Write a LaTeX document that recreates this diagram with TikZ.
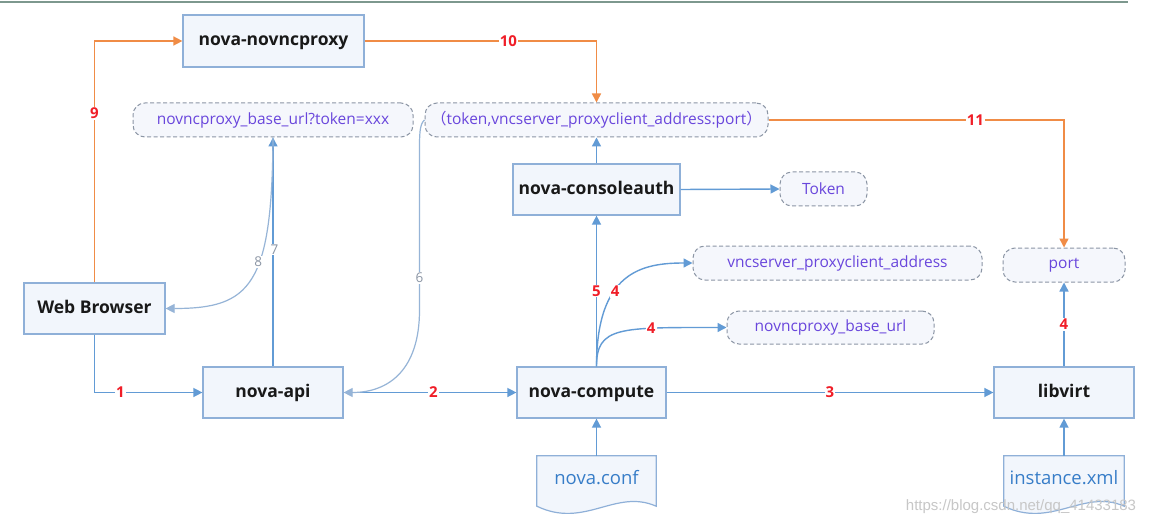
\documentclass[tikz,border=0pt]{standalone}
\usepackage{fontspec}
\setmainfont{Open Sans}
\newfontfamily\cjk{Noto Sans CJK SC}
\newfontfamily\wmfont{Liberation Sans}
\usetikzlibrary{arrows.meta}
\definecolor{boxc}{RGB}{143,176,216}
\definecolor{boxfill}{RGB}{242,246,252}
\definecolor{dashc}{RGB}{140,150,165}
\definecolor{tagfill}{RGB}{245,247,252}
\definecolor{tagtext}{RGB}{105,70,220}
\definecolor{bluec}{RGB}{98,155,213}
\definecolor{paleblue}{RGB}{150,180,215}
\definecolor{orangec}{RGB}{240,140,70}
\definecolor{redc}{RGB}{240,30,40}
\definecolor{grayc}{RGB}{140,150,165}
\definecolor{doctext}{RGB}{55,125,200}
\definecolor{topc}{RGB}{125,152,142}
\begin{document}
\begin{tikzpicture}[x=1pt,y=-1pt,
  box/.style={draw=boxc, line width=1.2pt, fill=boxfill, minimum height=51, inner sep=0pt,
    text height=12.5pt, text depth=3.5pt,
    font=\fontsize{17.5}{20}\selectfont\bfseries, text=black!90},
  tag/.style={draw=dashc, line width=1pt, dash pattern=on 4pt off 2.5pt, rounded corners=12pt,
    fill=tagfill, minimum height=34, inner sep=0pt, text=tagtext, font=\fontsize{15.5}{18}\selectfont},
  docnode/.style={minimum width=119, minimum height=50, inner sep=0pt, text=doctext,
    font=\fontsize{18.5}{21}\selectfont},
  docline/.style={draw=boxc, line width=1.2pt, fill=boxfill},
  bl/.style={draw=bluec, line width=1.4pt, -{Triangle[length=9pt,width=9pt]}},
  pl/.style={draw=paleblue, line width=1.2pt, -{Triangle[length=9pt,width=9pt]}},
  orl/.style={draw=orangec, line width=1.5pt, -{Triangle[length=9pt,width=9pt]}},
  lab/.style={fill=white, text=redc, inner sep=1pt, font=\fontsize{15}{17}\selectfont\bfseries},
  glab/.style={fill=white, text=grayc, inner sep=1pt, font=\fontsize{13.5}{15}\selectfont},
]
\useasboundingbox (0,0) rectangle (1152,524);
\fill[white] (0,0) rectangle (1152,524);
\draw[topc, line width=2pt] (0,2) -- (1128,2);

% boxes
\node[box, minimum width=181, minimum height=52] (proxy) at (273.5,41) {nova-novncproxy};
\node[box, minimum width=141] (wb) at (94.5,308.5) {Web Browser};
\node[box, minimum width=140] (api) at (273,392.5) {nova-api};
\node[box, minimum width=149] (comp) at (591.5,392.5) {nova-compute};
\node[box, minimum width=167] (ca) at (596.5,189.5) {nova-consoleauth};
\node[box, minimum width=140] (lib) at (1064,392.5) {libvirt};

% tags
\node[tag, minimum width=280] (url) at (273,120) {novncproxy\_base\_url?token=xxx};
\node[tag, minimum width=343] (tok) at (596.5,120) {{\cjk （}token,vncserver\_proxyclient\_address:port{\cjk ）}};
\node[tag, minimum width=87] (token) at (823.5,189) {Token};
\node[tag, minimum width=289] (vnc) at (837.5,263) {vncserver\_proxyclient\_address};
\node[tag, minimum width=122] (port) at (1064,265) {port};
\node[tag, minimum width=207, minimum height=33] (nbu) at (830.5,327.5) {novncproxy\_base\_url};

% documents
\node[docnode] (nconf) at (596.5,481) {};
\draw[docline] (nconf.north west) -- (nconf.north east) -- (nconf.south east)
  .. controls +(-41,-18) and +(48,23) .. (nconf.south west) -- cycle;
\node[docnode] at (nconf) [yshift=3pt] {nova.conf};
\node[docnode, minimum width=120] (inst) at (1064,481) {};
\draw[docline] (inst.north west) -- (inst.north east) -- (inst.south east)
  .. controls +(-41,-18) and +(48,23) .. (inst.south west) -- cycle;
\node[docnode] at (inst) [yshift=3pt] {instance.xml};

% orange connectors
\draw[orl] (wb.north) |- node[lab, pos=0.35] {9} (proxy.west);
\draw[orl] (proxy.east) -| node[lab, pos=0.31] {10} (tok.north);
\draw[orl] (tok.east) -| node[lab, pos=0.35] {11} (port.north);

% blue connectors
\draw[bl] (wb.south) |- node[lab, pos=0.62] {1} (api.west);
\draw[bl] (api.east) -- node[lab, pos=0.52] {2} (comp.west);
\draw[bl] (comp.east) -- node[lab, pos=0.5] {3} (lib.west);
\draw[bl] (lib.north) -- node[lab, pos=0.5] {4} (port.south);
\draw[bl] (inst.north) -- (lib.south);
\draw[bl] (nconf.north) -- (comp.south -| nconf.north);
\draw[bl] (comp.north -| ca.south) -- node[lab, pos=0.5] {5} (ca.south);
\draw[bl] (ca.north) -- (tok.south);
\draw[bl] (ca.east) -- (token.west);
\draw[bl] (comp.north -| ca.south) .. controls +(0,-95) and +(-50,0) .. node[lab, pos=0.38, xshift=1pt] {4} (vnc.west);
\draw[bl] (comp.north -| ca.south) .. controls +(0,-40) and +(-107,0) .. node[lab, pos=0.7] {4} (nbu.west);
\draw[bl] (api.north) -- (url.south);
\path (api.north) -- node[glab, pos=0.51, xshift=1.5pt] {7} (url.south);
\draw[pl] (url.south) .. controls +(-1,148) and +(85,0) .. node[glab, pos=0.4, xshift=-1pt] {8} (wb.east);
\coordinate (c6a) at (419.5,150);
\coordinate (c6b) at (419.5,310);
\draw[pl] (tok.west) .. controls +(-5,4) and +(0,-15) .. (c6a) -- node[glab, pos=0.8] {6} (c6b)
  .. controls +(0,60) and +(45,0) .. (api.east);

% watermark
\node[text=black!22, font=\wmfont\fontsize{15}{17}\selectfont, inner sep=0pt] (wm) at (1021,507) {https://blog.csdn.net/qq\_41433183};
\end{tikzpicture}
\end{document}
